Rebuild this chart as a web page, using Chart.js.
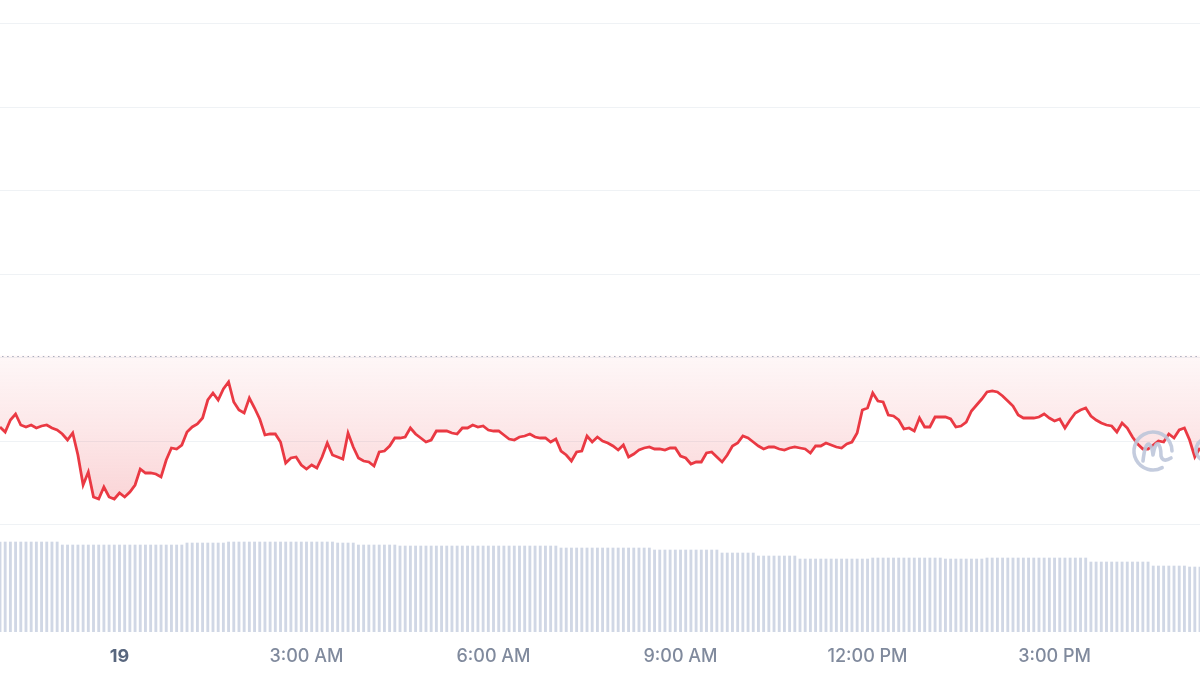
<!DOCTYPE html>
<html>
<head>
<meta charset="utf-8">
<script src="https://cdn.jsdelivr.net/npm/chart.js@4"></script>
<style>
  html, body { margin: 0; padding: 0; background: #ffffff; }
  canvas { display: block; }
</style>
</head>
<body>
<canvas id="c" width="1200" height="675"></canvas>
<script>
// ---- Data ----
// time axis: minutes from midnight of the 19th, 5-minute candles
const startMinute = -115;
const stepMinutes = 5;

const priceValues = [
  5.73,5.68,5.80,5.86,5.75,5.73,5.75,5.72,5.74,5.75,
  5.72,5.70,5.66,5.60,5.67,5.45,5.15,5.28,5.03,5.01,
  5.13,5.03,5.01,5.07,5.03,5.08,5.15,5.31,5.27,5.27,
  5.26,5.23,5.40,5.52,5.51,5.55,5.68,5.73,5.76,5.82,
  6.00,6.07,6.00,6.11,6.18,5.98,5.90,5.87,6.02,5.92,
  5.81,5.65,5.66,5.66,5.58,5.37,5.42,5.43,5.35,5.31,
  5.35,5.32,5.43,5.57,5.45,5.43,5.41,5.67,5.53,5.42,
  5.39,5.38,5.34,5.48,5.49,5.54,5.62,5.62,5.63,5.72,
  5.66,5.62,5.58,5.60,5.69,5.69,5.69,5.67,5.66,5.72,
  5.72,5.75,5.73,5.74,5.70,5.69,5.69,5.65,5.61,5.60,
  5.63,5.64,5.66,5.63,5.62,5.62,5.58,5.61,5.49,5.45,
  5.39,5.48,5.49,5.64,5.58,5.63,5.59,5.57,5.54,5.50,
  5.55,5.43,5.46,5.50,5.52,5.53,5.51,5.51,5.50,5.52,
  5.52,5.44,5.42,5.36,5.38,5.38,5.47,5.48,5.43,5.38,
  5.45,5.54,5.57,5.64,5.62,5.58,5.54,5.51,5.53,5.53,
  5.51,5.50,5.52,5.53,5.52,5.51,5.47,5.54,5.54,5.57,
  5.55,5.53,5.52,5.56,5.58,5.67,5.90,5.92,6.07,5.99,
  5.98,5.85,5.84,5.80,5.71,5.72,5.69,5.82,5.73,5.73,
  5.83,5.83,5.83,5.81,5.73,5.74,5.78,5.89,5.95,6.01,
  6.08,6.09,6.08,6.04,5.99,5.94,5.85,5.82,5.82,5.82,
  5.83,5.86,5.82,5.79,5.81,5.72,5.80,5.87,5.90,5.92,
  5.84,5.80,5.77,5.75,5.74,5.68,5.77,5.72,5.63,5.56,
  5.51,5.51,5.55,5.59,5.58,5.66,5.62,5.70,5.72,5.60,
  5.43,5.52
];

const volumeValues = [
  90,90,90,90,90,90,90,90,90,90,90,90,
  87,87,87,87,87,87,87,87,87,87,87,87,87,87,87,87,87,87,87,87,87,87,87,87,
  89,89,89,89,89,89,89,89,
  90,90,90,90,90,90,90,90,90,90,90,90,90,90,90,90,90,90,90,90,90,
  89,89,89,89,
  87,87,87,87,87,87,87,87,
  86,86,86,86,86,86,86,86,86,86,86,86,86,86,86,86,86,86,86,86,86,86,86,86,86,86,86,86,86,86,86,
  84,84,84,84,84,84,84,84,84,84,84,84,84,84,84,84,84,84,
  82,82,82,82,82,82,82,82,82,82,82,82,82,
  79,79,79,79,79,79,79,
  76,76,76,76,76,76,76,76,
  73,73,73,73,73,73,73,73,73,73,73,73,73,73,
  74,74,74,74,74,74,74,74,74,74,74,74,74,74,
  73,73,73,73,73,73,73,73,
  74,74,74,74,74,74,74,74,74,74,74,74,74,74,74,74,74,74,74,74,
  70,70,70,70,70,70,70,70,70,70,70,70,
  66,66,66,66,66,66,66,65,65,65
];

const openPrice = 6.445;          // dotted reference line
const gridValues = [9.765, 8.93, 8.095, 7.26, 6.425, 5.59, 4.755];
const tickMinutes = [0, 180, 360, 540, 720, 900];
const tickLabels = ['19', '3:00 AM', '6:00 AM', '9:00 AM', '12:00 PM', '3:00 PM'];

const minutes = priceValues.map((_, i) => startMinute + i * stepMinutes);

// ---- Plugins ----
const baselinePlugin = {
  id: 'baseline',
  beforeDatasetsDraw(chart) {
    const { ctx, chartArea, scales } = chart;
    const y = Math.round(scales.y.getPixelForValue(openPrice)) + 0.5;
    ctx.save();
    ctx.strokeStyle = '#a7b1c2';
    ctx.lineWidth = 1.2;
    ctx.setLineDash([1.5, 3.6]);
    ctx.beginPath();
    ctx.moveTo(chartArea.left + 2, y);
    ctx.lineTo(chartArea.right, y);
    ctx.stroke();
    ctx.restore();
  }
};

const watermarkPlugin = {
  id: 'watermark',
  afterDatasetsDraw(chart) {
    const { ctx } = chart;
    ctx.save();
    ctx.strokeStyle = 'rgba(190,198,218,0.9)';
    ctx.lineWidth = 3.6;
    ctx.lineCap = 'round';
    ctx.lineJoin = 'round';
    const cx = 1153, cy = 451, r = 19;
    ctx.beginPath();
    ctx.arc(cx, cy, r, 0.34 * Math.PI, 2.0 * Math.PI);
    ctx.stroke();
    ctx.beginPath();
    ctx.moveTo(cx - 10, cy + 10);
    ctx.quadraticCurveTo(cx - 8, cy - 8, cx - 4, cy - 7);
    ctx.quadraticCurveTo(cx - 1, cy - 5, cx, cy + 4);
    ctx.quadraticCurveTo(cx + 2, cy - 8, cx + 5, cy - 7);
    ctx.quadraticCurveTo(cx + 8, cy - 5, cx + 8, cy + 5);
    ctx.quadraticCurveTo(cx + 10, cy + 12, cx + 18, cy + 7);
    ctx.stroke();
    ctx.beginPath();
    ctx.arc(1207, 450, 11, 0.6 * Math.PI, 1.45 * Math.PI);
    ctx.stroke();
    ctx.restore();
  }
};

// ---- Chart ----
new Chart(document.getElementById('c'), {
  type: 'line',
  data: {
    labels: minutes,
    datasets: [
      {
        type: 'line',
        label: 'Price',
        data: priceValues,
        yAxisID: 'y',
        borderColor: '#ea3943',
        borderWidth: 2.8,
        pointRadius: 0,
        tension: 0,
        fill: { target: { value: openPrice } },
        backgroundColor: (context) => {
          const chart = context.chart;
          const { ctx, chartArea, scales } = chart;
          if (!chartArea || !scales.y) return 'rgba(234,57,67,0.1)';
          const y0 = scales.y.getPixelForValue(openPrice);
          const g = ctx.createLinearGradient(0, y0, 0, y0 + 150);
          g.addColorStop(0, 'rgba(234,57,67,0.04)');
          g.addColorStop(0.5, 'rgba(234,57,67,0.12)');
          g.addColorStop(1, 'rgba(234,57,67,0.22)');
          return g;
        },
        order: 1
      },
      {
        type: 'bar',
        label: 'Volume',
        data: volumeValues,
        yAxisID: 'yVol',
        backgroundColor: '#d0d7e5',
        borderWidth: 0,
        barThickness: 2.2,
        order: 2
      }
    ]
  },
  options: {
    responsive: false,
    animation: false,
    layout: { padding: { left: 0, right: 0, top: 0, bottom: 8 } },
    plugins: { legend: { display: false }, tooltip: { enabled: false } },
    events: [],
    scales: {
      x: {
        type: 'linear',
        min: startMinute,
        max: startMinute + (priceValues.length - 1) * stepMinutes,
        offset: false,
        grid: { display: false, drawTicks: false },
        border: { display: false },
        afterBuildTicks(scale) {
          scale.ticks = tickMinutes.map(v => ({ value: v }));
        },
        afterFit(scale) { scale.height = 35; },
        ticks: {
          autoSkip: false,
          maxRotation: 0,
          minRotation: 0,
          padding: 14,
          callback: (val) => {
            const i = tickMinutes.indexOf(val);
            return i >= 0 ? tickLabels[i] : '';
          },
          color: (ctx) => ctx.index === 0 ? '#58667e' : '#808a9d',
          font: (ctx) => ({
            family: 'Inter, "Noto Sans", sans-serif',
            size: 18,
            weight: ctx.index === 0 ? '700' : '500'
          })
        }
      },
      y: {
        position: 'left',
        min: 3.68,
        max: 10,
        afterBuildTicks(scale) {
          scale.ticks = gridValues.map(v => ({ value: v }));
        },
        afterFit(scale) { scale.width = 0; },
        grid: { color: '#eff2f5', lineWidth: 1, drawTicks: false },
        border: { display: false },
        ticks: { display: false }
      },
      yVol: {
        display: false,
        min: 0,
        max: 632
      }
    }
  },
  plugins: [baselinePlugin, watermarkPlugin]
});
</script>
</body>
</html>
